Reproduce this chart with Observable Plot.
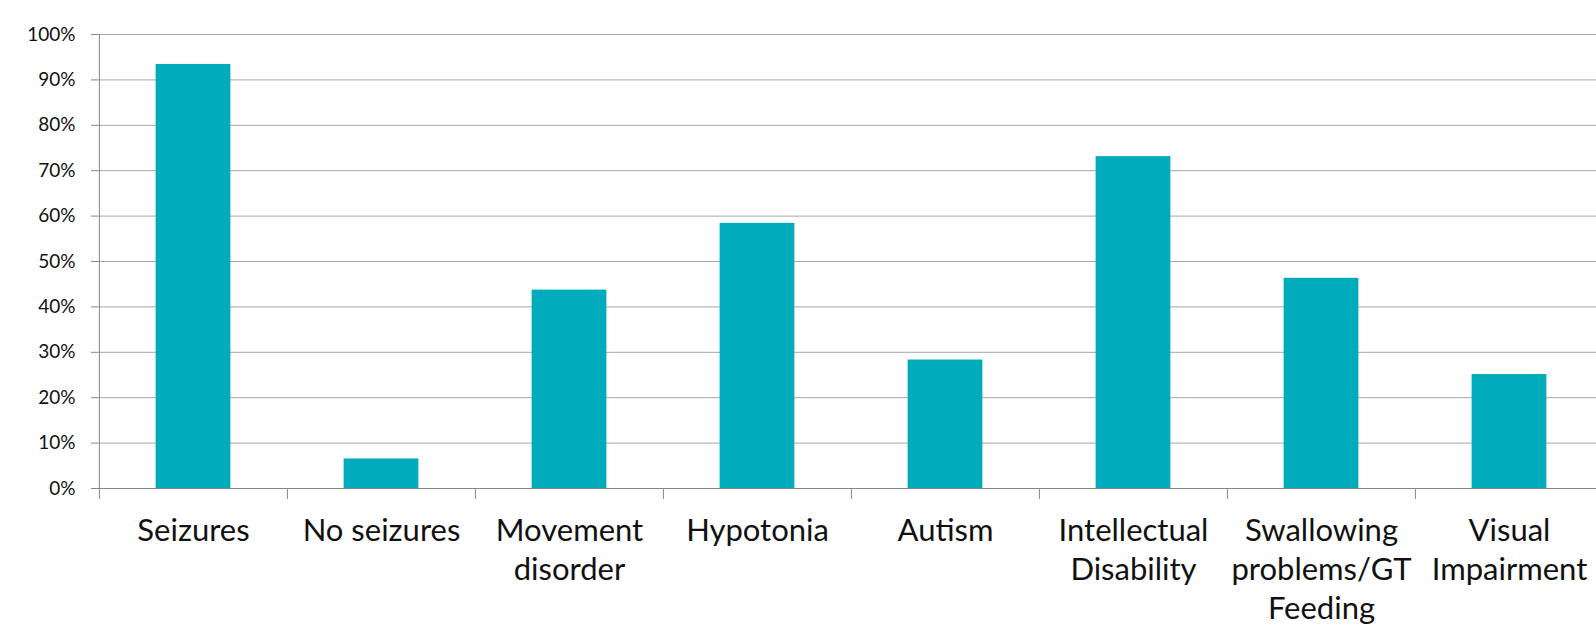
<!DOCTYPE html>
<html>
<head>
<meta charset="utf-8">
<script src="https://cdn.jsdelivr.net/npm/d3@7"></script>
<script src="https://cdn.jsdelivr.net/npm/@observablehq/plot@0.6"></script>
<style>
  html, body { margin: 0; padding: 0; background: #fff; overflow: hidden; }
  #chart svg { display: block; }
</style>
</head>
<body>
<div id="chart"></div>
<script>
// Share of patients with each clinical feature (%)
const categories = [
  "Seizures",
  "No seizures",
  "Movement\ndisorder",
  "Hypotonia",
  "Autism",
  "Intellectual\nDisability",
  "Swallowing\nproblems/GT\nFeeding",
  "Visual\nImpairment"
];
const percents = [93.4, 6.5, 43.7, 58.4, 28.3, 73.1, 46.3, 25.1];
const yTicks = [0, 10, 20, 30, 40, 50, 60, 70, 80, 90, 100];

const data = categories.map((c, i) => ({category: c, value: percents[i]}));

const W = 1596, H = 626;
const mL = 98, mR = -8, mT = 34, mB = 138;
const step = (W - mR - mL) / categories.length;
const barInset = (step - 75) / 2;
const labelFont = 31;

const chart = Plot.plot({
  width: W,
  height: H,
  marginLeft: mL,
  marginRight: mR,
  marginTop: mT,
  marginBottom: mB,
  style: {fontFamily: "Lato, 'Open Sans', sans-serif", background: "#fff", overflow: "visible"},
  x: {domain: categories, padding: 0, axis: null},
  y: {domain: [0, 100], axis: null},
  marks: [
    Plot.gridY(yTicks, {stroke: "#a6a6a6", strokeOpacity: 1, strokeWidth: 1}),
    Plot.barY(data, {
      x: "category",
      y: "value",
      fill: "#00acbb",
      insetLeft: barInset,
      insetRight: barInset
    }),
    // left axis line and baseline
    Plot.ruleX([0], {x: () => categories[0], dx: -step / 2, y1: 0, y2: 100, stroke: "#868686"}),
    Plot.ruleY([0], {stroke: "#868686"}),
    // category boundary ticks below the baseline
    Plot.ruleX(categories, {x: d => d, dx: -step / 2, y1: 0, y2: 0, insetBottom: -11, stroke: "#868686"}),
    Plot.axisY({
      ticks: yTicks,
      tickSize: 7,
      tickPadding: 16,
      stroke: "#868686",
      fill: "#111",
      fontSize: 19,
      label: null,
      tickFormat: d => d + "%"
    }),
    Plot.axisX({
      tickSize: 0,
      tickPadding: 25,
      fontSize: labelFont,
      lineHeight: 39 / labelFont,
      fill: "#111",
      label: null,
      textOverflow: null
    })
  ]
});

document.getElementById("chart").appendChild(chart);
</script>
</body>
</html>
